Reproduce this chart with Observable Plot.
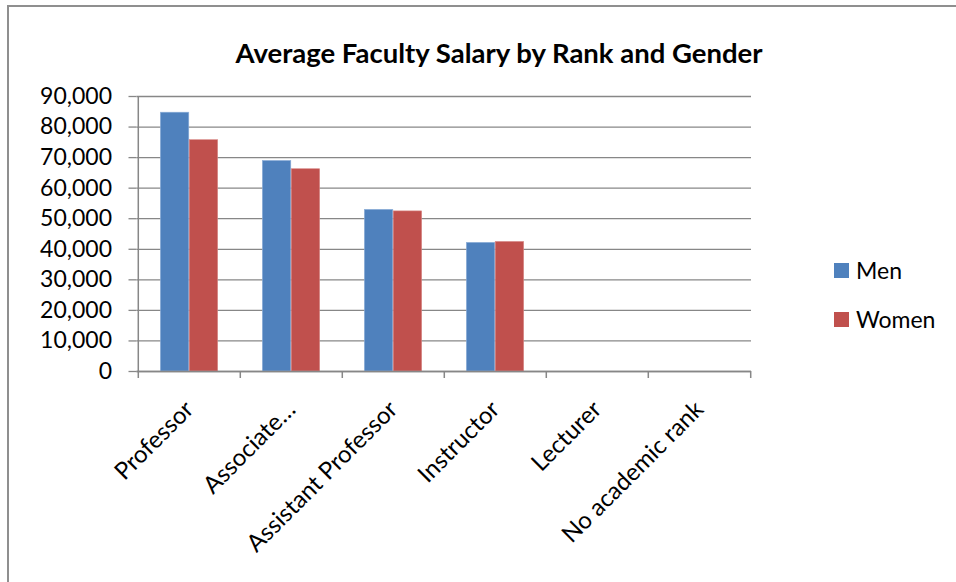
<!DOCTYPE html>
<html>
<head>
<meta charset="utf-8">
<script src="https://cdn.jsdelivr.net/npm/d3@7"></script>
<script src="https://cdn.jsdelivr.net/npm/@observablehq/plot@0.6"></script>
<style>
  html, body { margin: 0; padding: 0; background: #fff; }
  #wrap { position: relative; width: 956px; height: 582px; overflow: hidden; font-family: Lato, "Open Sans", sans-serif; }
  #border { position: absolute; left: 7px; top: 5px; width: 980px; height: 620px; border-left: 2px solid #8f8f8f; border-top: 2px solid #8f8f8f; }
  #title { position: absolute; left: 0; width: 998px; top: 36px; text-align: center; font-weight: bold; font-size: 27.5px; color: #000; }
  #chart { position: absolute; left: 0; top: 0; }
  .leg { position: absolute; left: 834px; font-size: 23px; color: #000; display: flex; align-items: center; }
  .leg span.sw { display: inline-block; width: 15px; height: 15px; margin-right: 7px; }
</style>
</head>
<body>
<div id="wrap">
  <div id="border"></div>
  <div id="chart"></div>
  <div id="title">Average Faculty Salary by Rank and Gender</div>
</div>
<script>
const categories = ["Professor", "Associate…", "Assistant Professor", "Instructor", "Lecturer", "No academic rank"];
const men   = [84700, 68900, 52900, 42100, null, null];
const women = [75700, 66200, 52400, 42400, null, null];
const series = ["Men", "Women"];
const colors = ["#4F81BD", "#C0504D"];
const yTicks = [0, 10000, 20000, 30000, 40000, 50000, 60000, 70000, 80000, 90000];

const W = 956, H = 582;
const ml = 136.5, mr = 205, mt = 96, mb = 211;
const bw = (W - ml - mr) / categories.length;
const gap = 0.218 * bw;
const barW = (bw - 2 * gap) / 2;

const rows = [];
categories.forEach((c, i) => {
  if (men[i] != null) rows.push({cat: c, s: "Men", v: men[i]});
  if (women[i] != null) rows.push({cat: c, s: "Women", v: women[i]});
});

const gridColor = "#878787";
const plot = Plot.plot({
  width: W, height: H,
  marginLeft: ml, marginRight: mr, marginTop: mt, marginBottom: mb,
  style: {fontFamily: "Lato, 'Open Sans', sans-serif", fontSize: "22px", color: "#000", background: "transparent"},
  x: {domain: categories, padding: 0, axis: null, label: null},
  y: {domain: [0, 90000], axis: null, label: null},
  color: {domain: series, range: colors},
  marks: [
    Plot.gridY(yTicks, {stroke: gridColor, strokeOpacity: 1, strokeWidth: 1.3}),
    Plot.barY(rows.filter(d => d.s === "Men"), {x: "cat", y: "v", fill: "s", insetLeft: gap, insetRight: gap + barW, stroke: "#8fb0d9", strokeWidth: 0.6}),
    Plot.barY(rows.filter(d => d.s === "Women"), {x: "cat", y: "v", fill: "s", insetLeft: gap + barW, insetRight: gap, stroke: "#d88a88", strokeWidth: 0.6}),
    Plot.ruleY([0], {stroke: gridColor, strokeWidth: 1.5}),
    Plot.ruleX([categories[0]], {x: d => d, dx: -bw / 2, y1: 0, y2: 90000, stroke: gridColor, strokeWidth: 1.5}),
    Plot.ruleX(categories, {x: d => d, dx: -bw / 2, y1: 0, y2: 0, insetBottom: -7, stroke: gridColor, strokeWidth: 1.5}),
    Plot.ruleX([categories[categories.length - 1]], {x: d => d, dx: bw / 2, y1: 0, y2: 0, insetBottom: -7, stroke: gridColor, strokeWidth: 1.5}),
    Plot.axisY(yTicks, {label: null, tickSize: 8, tickPadding: 17, tickFormat: d3.format(","), stroke: gridColor, strokeWidth: 1.3, fontSize: 23, fill: "#000"}),
    Plot.axisX({label: null, tickSize: 0, tickRotate: -45, tickPadding: 27, fontSize: 24, fill: "#000", dx: 0, dy: 7})
  ]
});
document.getElementById("chart").appendChild(plot);

const wrap = document.getElementById("wrap");
series.forEach((s, i) => {
  const d = document.createElement("div");
  d.className = "leg";
  d.style.top = (256 + i * 49) + "px";
  d.innerHTML = `<span class="sw" style="background:${colors[i]}"></span>${s}`;
  wrap.appendChild(d);
});
</script>
</body>
</html>
